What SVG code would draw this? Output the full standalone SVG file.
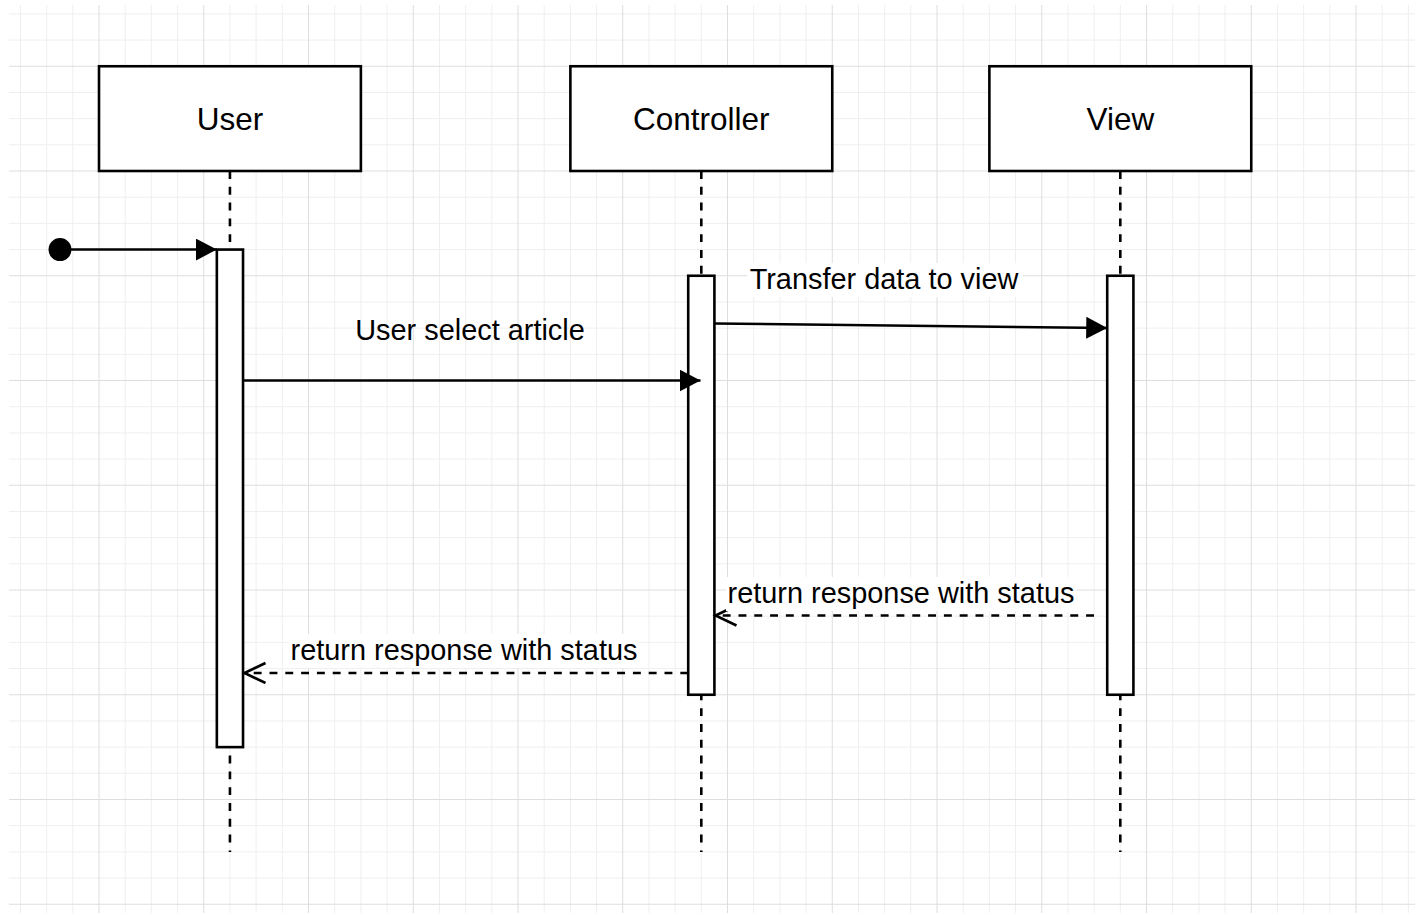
<svg xmlns="http://www.w3.org/2000/svg" width="1425" height="915" viewBox="0 0 1425 915">
  <style>
    .minor { stroke: #efefef; stroke-width: 1; fill: none; }
    .major { stroke: #dedede; stroke-width: 1; fill: none; }
    .box { fill: #ffffff; stroke: #000000; stroke-width: 2.6; }
    .bar { fill: #ffffff; stroke: #000000; stroke-width: 2.6; }
    .lifeline { stroke: #000000; stroke-width: 2.6; stroke-dasharray: 7.9 7.9; fill: none; }
    .msg { stroke: #000000; stroke-width: 2.6; fill: none; }
    .ret { stroke: #000000; stroke-width: 2.6; stroke-dasharray: 7.9 7.9; fill: none; }
    .title { font-family: "Liberation Sans", Arial, sans-serif; font-size: 31.5px; fill: #000000; text-anchor: middle; }
    .label { font-family: "Liberation Sans", Arial, sans-serif; font-size: 28.9px; fill: #000000; text-anchor: middle; }
    .labelbg { fill: #ffffff; }
  </style>
  <defs>
    <marker id="block" markerUnits="userSpaceOnUse" markerWidth="24" markerHeight="24" refX="21" refY="11" orient="auto">
      <path d="M0,0 L21,11 L0,22 Z" fill="#000000"/>
    </marker>
    <marker id="open" markerUnits="userSpaceOnUse" markerWidth="26" markerHeight="26" refX="22" refY="11" orient="auto">
      <path d="M1,1 L22,11 L1,21" fill="none" stroke="#000000" stroke-width="2.6"/>
    </marker>
  </defs>

  <rect x="0" y="0" width="1425" height="915" fill="#ffffff"/>

  <!-- background grid -->
  <g id="grid">
    <path class="minor" d="M20.44 5V913M46.63 5V913M72.81 5V913M125.19 5V913M151.38 5V913M177.56 5V913M229.94 5V913M256.13 5V913M282.31 5V913M334.69 5V913M360.88 5V913M387.06 5V913M439.44 5V913M465.63 5V913M491.81 5V913M544.19 5V913M570.38 5V913M596.56 5V913M648.94 5V913M675.13 5V913M701.31 5V913M753.69 5V913M779.88 5V913M806.06 5V913M858.44 5V913M884.63 5V913M910.81 5V913M963.19 5V913M989.38 5V913M1015.56 5V913M1067.94 5V913M1094.13 5V913M1120.31 5V913M1172.69 5V913M1198.88 5V913M1225.06 5V913M1277.44 5V913M1303.63 5V913M1329.81 5V913M1382.19 5V913M1408.38 5V913"/>
    <path class="minor" d="M9 13.88H1415M9 40.06H1415M9 92.44H1415M9 118.63H1415M9 144.81H1415M9 197.19H1415M9 223.38H1415M9 249.56H1415M9 301.94H1415M9 328.13H1415M9 354.31H1415M9 406.69H1415M9 432.88H1415M9 459.06H1415M9 511.44H1415M9 537.63H1415M9 563.81H1415M9 616.19H1415M9 642.38H1415M9 668.56H1415M9 720.94H1415M9 747.13H1415M9 773.31H1415M9 825.69H1415M9 851.88H1415M9 878.06H1415"/>
    <path class="major" d="M99 5V913M203.75 5V913M308.5 5V913M413.25 5V913M518 5V913M622.75 5V913M727.5 5V913M832.25 5V913M937 5V913M1041.75 5V913M1146.5 5V913M1251.25 5V913M1356 5V913"/>
    <path class="major" d="M9 66.25H1415M9 171H1415M9 275.75H1415M9 380.5H1415M9 485.25H1415M9 590H1415M9 694.75H1415M9 799.5H1415M9 904.25H1415"/>
  </g>

  <!-- lifelines -->
  <g id="lifelines">
    <path class="lifeline" d="M229.94 171V852"/>
    <path class="lifeline" d="M701.31 171V852"/>
    <path class="lifeline" d="M1120.31 171V852"/>
  </g>

  <!-- participants -->
  <g id="user">
    <rect class="box" x="99" y="66.25" width="261.88" height="104.75"/>
    <text class="title" x="229.94" y="130">User</text>
    <rect class="bar" x="216.84" y="249.56" width="26.19" height="497.57"/>
  </g>
  <g id="controller">
    <rect class="box" x="570.38" y="66.25" width="261.87" height="104.75"/>
    <text class="title" x="701.31" y="130">Controller</text>
    <rect class="bar" x="688.22" y="275.75" width="26.19" height="419"/>
  </g>
  <g id="view">
    <rect class="box" x="989.38" y="66.25" width="261.87" height="104.75"/>
    <text class="title" x="1120.31" y="130">View</text>
    <rect class="bar" x="1107.22" y="275.75" width="26.19" height="419"/>
  </g>

  <!-- messages -->
  <g id="connectors">
    <circle cx="60" cy="249.56" r="11.5" fill="#000000"/>
    <path class="msg" d="M60 249.56H216.84" marker-end="url(#block)"/>

    <path class="msg" d="M243.03 380.5H700.5" marker-end="url(#block)"/>
    <text class="label" x="470" y="340">User select article</text>

    <path class="msg" d="M714.41 323.5L1107.22 328" marker-end="url(#block)"/>
    <rect class="labelbg" x="747" y="263" width="276" height="34"/>
    <text class="label" x="884" y="289">Transfer data to view</text>

    <path class="ret" d="M1094 615.5H715.5" marker-end="url(#open)"/>
    <rect class="labelbg" x="726" y="577" width="350" height="34"/>
    <text class="label" x="901" y="603">return response with status</text>

    <path class="ret" d="M688.22 673H244.5" marker-end="url(#open)"/>
    <rect class="labelbg" x="289" y="634" width="350" height="34"/>
    <text class="label" x="464" y="660">return response with status</text>
  </g>
</svg>
